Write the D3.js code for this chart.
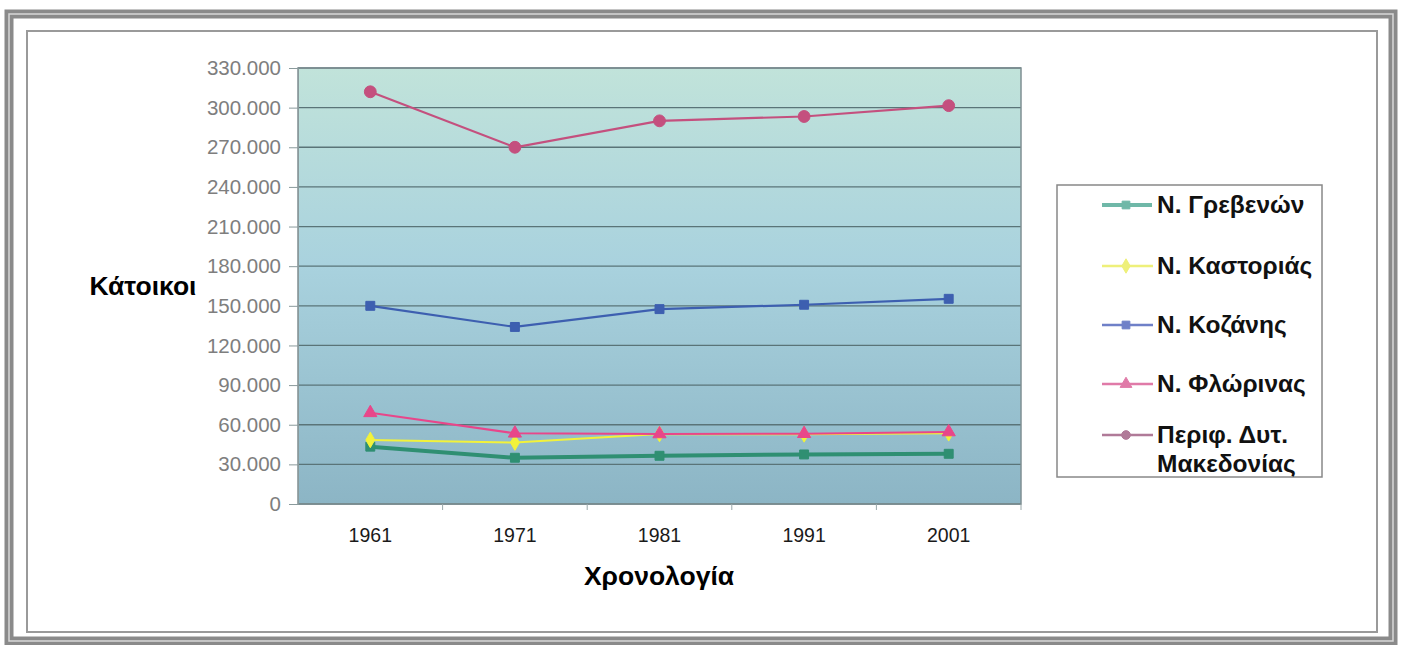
<!DOCTYPE html>
<html><head><meta charset="utf-8">
<script src="https://cdn.jsdelivr.net/npm/d3@7/dist/d3.min.js"></script>
<style>body{margin:0;background:#fff}svg{display:block}</style>
</head><body>
<svg id="c" width="1402" height="645"></svg>
<script>
const years = ["1961","1971","1981","1991","2001"];
const yTicks = [0,30000,60000,90000,120000,150000,180000,210000,240000,270000,300000,330000];
const grevena   = [43400, 35000, 36500, 37500, 38000];
const kastoria  = [48500, 46500, 53000, 52700, 53500];
const kozani    = [150000, 134000, 147500, 150800, 155300];
const florina   = [69000, 53500, 53000, 53200, 54500];
const dytMak    = [312000, 270000, 290000, 293300, 301500];
const seriesNames = ["Ν. Γρεβενών","Ν. Καστοριάς","Ν. Κοζάνης","Ν. Φλώρινας","Περιφ. Δυτ. Μακεδονίας"];

const series = [
  {name: seriesNames[0], values: grevena,  color:"#2f8f72", legendColor:"#6fb8a8", width:4,   marker:"square",  size:80},
  {name: seriesNames[1], values: kastoria, color:"#f2f23a", legendColor:"#eef07a", width:2,   marker:"diamond", size:70},
  {name: seriesNames[2], values: kozani,   color:"#3d5fb0", legendColor:"#6f80c8", width:2.2, marker:"square",  size:80},
  {name: seriesNames[3], values: florina,  color:"#e8468a", legendColor:"#e07aa8", width:2,   marker:"triangle",size:75},
  {name: seriesNames[4], values: dytMak,   color:"#c4507e", legendColor:"#b07a98", width:2.2, marker:"circle",  size:110}
];

const FONT = "Liberation Sans, Arial, sans-serif";
const svg = d3.select("#c");
// frame
svg.append("rect").attr("x",9).attr("y",14).attr("width",1384).attr("height",627)
  .attr("fill","none").attr("stroke","#8a8a8a").attr("stroke-width",9);
svg.append("rect").attr("x",9).attr("y",14).attr("width",1384).attr("height",627)
  .attr("fill","none").attr("stroke","#d8d8d8").attr("stroke-width",1.5);
svg.append("rect").attr("x",27).attr("y",31).attr("width",1350).attr("height",601)
  .attr("fill","none").attr("stroke","#9a9a9a").attr("stroke-width",2);

const L=298, R=1021, T=68, B=504;
const x = d3.scaleBand().domain(years).range([L,R]);
const y = d3.scaleLinear().domain([0,330000]).range([B,T]);

const defs = svg.append("defs");
const g = defs.append("linearGradient").attr("id","bg").attr("x1",0).attr("y1",0).attr("x2",0).attr("y2",1);
g.append("stop").attr("offset","0%").attr("stop-color","#c1e3da");
g.append("stop").attr("offset","45%").attr("stop-color","#a9d2de");
g.append("stop").attr("offset","100%").attr("stop-color","#8cb5c5");
svg.append("rect").attr("x",L).attr("y",T).attr("width",R-L).attr("height",B-T).attr("fill","url(#bg)");

// gridlines
svg.append("g").selectAll("line").data(yTicks).join("line")
  .attr("x1",L).attr("x2",R).attr("y1",d=>y(d)).attr("y2",d=>y(d))
  .attr("stroke","#5a7478").attr("stroke-width",1.3);
svg.append("rect").attr("x",L).attr("y",T).attr("width",R-L).attr("height",B-T)
  .attr("fill","none").attr("stroke","#7f8f92").attr("stroke-width",1.5);

const fmt = v => v===0 ? "0" : d3.format(",")(v).replace(/,/g,".");
const yAxis = svg.append("g").attr("transform",`translate(${L},0)`)
  .call(d3.axisLeft(y).tickValues(yTicks).tickFormat(fmt).tickSize(9).tickPadding(8));
yAxis.select(".domain").attr("stroke","#8a9a9c");
yAxis.selectAll(".tick line").attr("stroke","#8a9a9c");
yAxis.selectAll("text").attr("fill","#7e7e7e").attr("font-family",FONT).attr("font-size",20.5);

const xAxis = svg.append("g").attr("transform",`translate(0,${B})`)
  .call(d3.axisBottom(x).tickSize(0).tickPadding(24));
xAxis.select(".domain").remove();
xAxis.selectAll("text").attr("fill","#1a1a1a").attr("font-family",FONT).attr("font-size",19.5);
// category separator ticks
svg.append("g").selectAll("line").data(years).join("line")
  .attr("x1",(d,i)=> x(d)+x.step()).attr("x2",(d,i)=> x(d)+x.step())
  .attr("y1",B).attr("y2",B+6).attr("stroke","#9aa8aa");

const cx = d => x(d)+x.bandwidth()/2;
const line = d3.line().x((d,i)=>cx(years[i])).y(d=>y(d));

function marker(sel, type, size, color){
  const sym = {square:d3.symbolSquare, diamond:d3.symbolDiamond, triangle:d3.symbolTriangle, circle:d3.symbolCircle}[type];
  sel.attr("d", d3.symbol().type(sym).size(size)).attr("fill",color).attr("stroke",color);
}

series.forEach(s=>{
  svg.append("path").datum(s.values).attr("d",line).attr("fill","none")
    .attr("stroke",s.color).attr("stroke-width",s.width);
  svg.append("g").selectAll("path").data(s.values).join("path")
    .attr("transform",(d,i)=>`translate(${cx(years[i])},${y(d)})`)
    .call(sel=>marker(sel,s.marker,s.size,s.color));
});

// axis titles
svg.append("text").attr("x",143).attr("y",295).attr("text-anchor","middle")
  .attr("font-family",FONT).attr("font-weight","bold").attr("font-size",26.5).text("Κάτοικοι");
svg.append("text").attr("x",659).attr("y",585).attr("text-anchor","middle")
  .attr("font-family",FONT).attr("font-weight","bold").attr("font-size",26.5).text("Χρονολογία");

// legend
svg.append("rect").attr("x",1057).attr("y",185).attr("width",265).attr("height",292)
  .attr("fill","#fff").attr("stroke","#888").attr("stroke-width",1.5);
const lBase = [213, 274, 333, 392, 443];
series.forEach((s,i)=>{
  const cy = lBase[i] - 8;
  const gg = svg.append("g");
  gg.append("line").attr("x1",1102).attr("x2",i===0?1152:1153).attr("y1",cy).attr("y2",cy)
    .attr("stroke",s.legendColor).attr("stroke-width",s.width===4?4:2.5);
  gg.append("path").attr("transform",`translate(1126,${cy})`).call(sel=>marker(sel,s.marker,60,s.legendColor));
  const t = gg.append("text").attr("x",1157).attr("y",lBase[i])
    .attr("font-family",FONT).attr("font-weight","bold").attr("font-size",24.5).attr("fill","#111");
  if(i===4){
    t.append("tspan").attr("x",1157).attr("dy",0).text("Περιφ. Δυτ.");
    t.append("tspan").attr("x",1157).attr("dy",29).text("Μακεδονίας");
  } else t.text(s.name);
});
</script>
</body></html>
